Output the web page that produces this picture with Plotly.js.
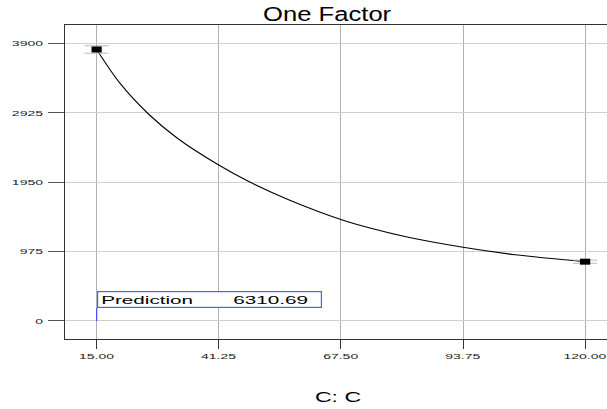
<!DOCTYPE html>
<html>
<head>
<meta charset="utf-8">
<script src="https://cdn.plot.ly/plotly-3.0.1.min.js"></script>
<style>html,body{margin:0;padding:0;background:#fff;}#chart{width:607px;height:409px;}</style>
</head>
<body>
<div id="chart"></div>
<script>
// Curve (factor C vs response)
var curveX = [15, 20, 26.25, 32.5, 41.25, 47.5, 56, 67.5, 73.75, 82, 93.75, 105, 120];
var curveY = [3813, 3340, 2900, 2560, 2190, 1965, 1710, 1425, 1305, 1175, 1035, 930, 833];
// Design points (end markers) and their interval half-widths
var pointX = [15, 120];
var pointY = [3813, 833];
var pointErr = [52, 22];
// Axis ticks
var xTicks = [15, 41.25, 67.5, 93.75, 120];
var xTickText = ['15.00', '41.25', '67.50', '93.75', '120.00'];
var yTicks = [0, 975, 1950, 2925, 3900];
var yTickText = ['0', '975', '1950', '2925', '3900'];
// Prediction label
var predLabel = 'Prediction';
var predValue = '6310.69';
var predX = 15, predY = 0;

var font = 'Liberation Sans, Arial, sans-serif';
var traces = [
  {x: curveX, y: curveY, type: 'scatter', mode: 'lines',
   line: {color: '#000', width: 1.1, shape: 'spline', smoothing: 0.9}, hoverinfo: 'skip'},
  {x: pointX, y: pointY, type: 'scatter', mode: 'markers',
   marker: {symbol: 'line-ew', size: 7.3, color: '#000', line: {width: 6, color: '#000'}},
   error_y: {type: 'data', array: pointErr, visible: true, color: '#b8b8b8', thickness: 1, width: 12}}
];
var layout = {
  width: 607, height: 409,
  margin: {l: 65, r: 0, t: 25, b: 70},
  paper_bgcolor: '#fff', plot_bgcolor: '#fff',
  showlegend: false,
  font: {family: font, color: '#222'},
  title: {text: 'One Factor', font: {family: font, size: 20, color: '#000'},
          x: 0.539, xanchor: 'center', y: 0.982, yanchor: 'top'},
  xaxis: {range: [8.2, 124.7], tickvals: xTicks, ticktext: xTickText,
          showline: true, mirror: true, linecolor: '#333', linewidth: 1,
          ticks: 'outside', ticklen: 9, tickcolor: '#333', tickwidth: 1,
          showgrid: true, gridcolor: '#b0b0b0', gridwidth: 1, zeroline: false,
          tickfont: {family: font, size: 8, color: '#222'},
          title: {text: 'C: C', font: {family: font, size: 14, color: '#000'}, standoff: 32},
          automargin: false},
  yaxis: {range: [-253, 4157], tickvals: yTicks, ticktext: yTickText,
          showline: true, linecolor: '#333', linewidth: 1,
          ticks: 'outside', ticklen: 16, tickcolor: '#555', tickwidth: 1,
          ticklabelstandoff: 3,
          showgrid: true, gridcolor: '#d0d0d0', gridwidth: 1, zeroline: false,
          tickfont: {family: font, size: 8, color: '#222'},
          automargin: false},
  annotations: [{
    x: predX, y: predY, xref: 'x', yref: 'y',
    text: predLabel + '\u00a0\u00a0\u00a0\u00a0\u00a0\u00a0\u00a0' + predValue,
    font: {family: font, size: 11, color: '#000'},
    showarrow: true, arrowhead: 0, arrowcolor: '#5050ff', arrowwidth: 1.3,
    ax: 0, ay: -13, xanchor: 'left', yanchor: 'bottom',
    bordercolor: '#5a5aff', borderwidth: 1.2, borderpad: 1, bgcolor: '#fff',
    width: 221, height: 13, align: 'left'
  }]
};

function stretch(sel, s, anchor, dx) {
  document.querySelectorAll(sel).forEach(function (t) {
    var b = t.getBBox();
    var cx = anchor === 'start' ? b.x : (anchor === 'end' ? b.x + b.width : b.x + b.width / 2);
    var tr = t.getAttribute('transform') || '';
    t.setAttribute('transform', tr + ' translate(' + (cx + (dx || 0)) + ',0) scale(' + s + ',1) translate(' + (-cx) + ',0)');
  });
}

Plotly.newPlot('chart', traces, layout, {displayModeBar: false, staticPlot: true}).then(function () {
  stretch('#chart .xtick text', 1.75, 'middle');
  stretch('#chart .ytick text', 1.75, 'end');
  stretch('#chart .gtitle', 1.28, 'middle');
  stretch('#chart .xtitle', 1.65, 'middle', 2);
  stretch('#chart .annotation-text', 1.88, 'start', 2);
});
</script>
</body>
</html>
